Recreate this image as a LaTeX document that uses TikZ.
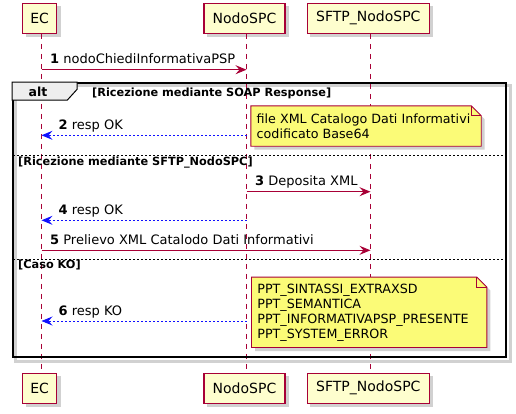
\documentclass[tikz,border=0pt]{standalone}
\usepackage{fontspec}
\setmainfont{DejaVu Sans}
\usetikzlibrary{arrows.meta,calc}
\definecolor{pborder}{HTML}{A80036}
\definecolor{pfill}{HTML}{FEFECE}
\definecolor{nfill}{HTML}{FBFB77}
\definecolor{tabfill}{HTML}{EEEEEE}
\definecolor{retblue}{HTML}{1010FF}
\pgfdeclarelayer{bg}
\pgfdeclarelayer{lines}
\pgfdeclarelayer{notebg}
\pgfsetlayers{bg,lines,notebg,main}
\tikzset{
  part/.style={draw=pborder, fill=pfill, line width=1.1pt, minimum height=30pt, inner sep=0pt, font=\fontsize{14}{16}\selectfont},
  life/.style={draw=pborder, line width=0.8pt, dash pattern=on 5pt off 5pt},
  tipm/.style={-{Stealth[length=11pt,width=9pt,inset=4pt]}},
  msg/.style={draw=pborder, line width=0.9pt, tipm},
  ret/.style={draw=retblue, line width=0.9pt, dash pattern=on 2pt off 2pt, tipm},
  mlabel/.style={font=\fontsize{13}{15}\selectfont, inner sep=0pt, anchor=base west},
  cond/.style={font=\bfseries\fontsize{11.3}{13}\selectfont, inner sep=0pt, anchor=base west},
  notebox/.style={inner sep=0pt},
  notetext/.style={font=\fontsize{12.7}{14.9}\selectfont, align=left, inner sep=0pt, anchor=west},
  noteshape/.style={fill=nfill, draw=pborder, line width=0.9pt, line join=miter},
  shad/.style={fill=black!18},
  framebox/.style={draw=black, line width=1.6pt, inner sep=0pt},
  sepline/.style={draw=black, line width=0.7pt, dash pattern=on 2pt off 2pt},
}
\newcommand\myshadow[1]{\fill[shad] ($(#1.north west)+(3.5,3.5)$) rectangle ($(#1.south east)+(3.5,3.5)$);}
\newcommand\mynote[1]{%
  \fill[shad] ($(#1.north west)+(3.5,3.5)$) -- ($(#1.north east)+(-6.5,3.5)$) -- ($(#1.north east)+(3.5,13.5)$) -- ($(#1.south east)+(3.5,3.5)$) -- ($(#1.south west)+(3.5,3.5)$) -- cycle;
  \path[noteshape] (#1.north west) -- ($(#1.north east)+(-10,0)$) -- ($(#1.north east)+(0,10)$) -- (#1.south east) -- (#1.south west) -- cycle;
  \draw[pborder, line width=0.9pt] ($(#1.north east)+(-10,0)$) -- ($(#1.north east)+(-10,10)$) -- ($(#1.north east)+(0,10)$);
}
\begin{document}
\begin{tikzpicture}[x=1pt,y=-1pt]
\useasboundingbox (0,0) rectangle (516,413);
% participants
\node[part, minimum width=34pt] (ecT) at (39.7,18.3) {EC};
\node[part, minimum width=81pt] (nsT) at (244.5,18.3) {NodoSPC};
\node[part, minimum width=122pt] (sfT) at (368.3,18.3) {SFTP\_NodoSPC};
\node[part, minimum width=34pt] (ecB) at (39.7,388.3) {EC};
\node[part, minimum width=81pt] (nsB) at (244.5,388.3) {NodoSPC};
\node[part, minimum width=122pt] (sfB) at (368.3,388.3) {SFTP\_NodoSPC};
\begin{pgfonlayer}{bg}
  \myshadow{ecT}\myshadow{nsT}\myshadow{sfT}
  \myshadow{ecB}\myshadow{nsB}\myshadow{sfB}
\end{pgfonlayer}
% lifelines
\coordinate (ecL) at (41.5,0);
\coordinate (nsL) at (246.5,0);
\coordinate (sfL) at (370.5,0);
\begin{pgfonlayer}{lines}
  \draw[life] (ecL |- ecT.south) -- (ecL |- ecB.north);
  \draw[life] (nsL |- nsT.south) -- (nsL |- nsB.north);
  \draw[life] (sfL |- sfT.south) -- (sfL |- sfB.north);
\end{pgfonlayer}
% message 1
\coordinate (m1a) at (41.5,69.7);
\coordinate (m1b) at (246.5,69.7);
\draw[msg] (m1a) -- (m1b);
\node[mlabel] (l1) at ($(m1a)+(8.5,-6)$) {\textbf{1} nodoChiediInformativaPSP};
% alt frame
\node[framebox, minimum width=493pt, minimum height=274pt] (altf) at (259.5,220) {};
\begin{pgfonlayer}{bg}
  \draw[black!18, line width=2.5pt] ($(altf.north west)+(3.5,3.5)$) rectangle ($(altf.south east)+(3.5,3.5)$);
\end{pgfonlayer}
\draw[fill=tabfill, line width=1pt] (altf.north west) -- ++(65,0) -- ++(0,7) -- ++(-10,11) -- ($(altf.north west)+(0,18)$) -- cycle;
\node[font=\bfseries\fontsize{12.5}{14}\selectfont, inner sep=0pt, anchor=base] (altl) at (38,96) {alt};
\node[cond] (c1) at (92,96) {[Ricezione mediante SOAP Response]};
% message 2 + note 1
\coordinate (m2a) at (246.5,135.3);
\coordinate (m2b) at (41.5,135.3);
\draw[ret] (m2a) -- (m2b);
\node[mlabel] (l2) at ($(m2b)+(17,-6)$) {\textbf{2} resp OK};
\node[notebox, minimum width=230pt, minimum height=40pt] (n1) at (366,126) {};
\node[notetext] (n1t) at ($(n1.west)+(5.7,0.5)$) {file XML Catalogo Dati Informativi\\codificato Base64};
\begin{pgfonlayer}{notebg}\mynote{n1}\end{pgfonlayer}
% separator 1
\coordinate (s1a) at (13,155.7);
\coordinate (s1b) at (506,155.7);
\draw[sepline] (s1a) -- (s1b);
\node[cond] (c2) at (18,165) {[Ricezione mediante SFTP\_NodoSPC]};
% message 3
\coordinate (m3a) at (246.5,191.7);
\coordinate (m3b) at (370.5,191.7);
\draw[msg] (m3a) -- (m3b);
\node[mlabel] (l3) at ($(m3a)+(8.5,-6)$) {\textbf{3} Deposita XML};
% message 4
\coordinate (m4a) at (246.5,220.3);
\coordinate (m4b) at (41.5,220.3);
\draw[ret] (m4a) -- (m4b);
\node[mlabel] (l4) at ($(m4b)+(17,-6)$) {\textbf{4} resp OK};
% message 5
\coordinate (m5a) at (41.5,250.3);
\coordinate (m5b) at (370.5,250.3);
\draw[msg] (m5a) -- (m5b);
\node[mlabel] (l5) at ($(m5a)+(8.5,-6)$) {\textbf{5} Prelievo XML Catalodo Dati Informativi};
% separator 2
\coordinate (s2a) at (13,259);
\coordinate (s2b) at (506,259);
\draw[sepline] (s2a) -- (s2b);
\node[cond] (c3) at (18,268) {[Caso KO]};
% message 6 + note 2
\coordinate (m6a) at (246.5,321);
\coordinate (m6b) at (41.5,321);
\draw[ret] (m6a) -- (m6b);
\node[mlabel] (l6) at ($(m6b)+(17,-6)$) {\textbf{6} resp KO};
\node[notebox, minimum width=235pt, minimum height=70pt] (n2) at (369.2,312.3) {};
\node[notetext] (n2t) at ($(n2.west)+(5.7,0.5)$) {PPT\_SINTASSI\_EXTRAXSD\\PPT\_SEMANTICA\\PPT\_INFORMATIVAPSP\_PRESENTE\\PPT\_SYSTEM\_ERROR};
\begin{pgfonlayer}{notebg}\mynote{n2}\end{pgfonlayer}
\end{tikzpicture}
\end{document}
